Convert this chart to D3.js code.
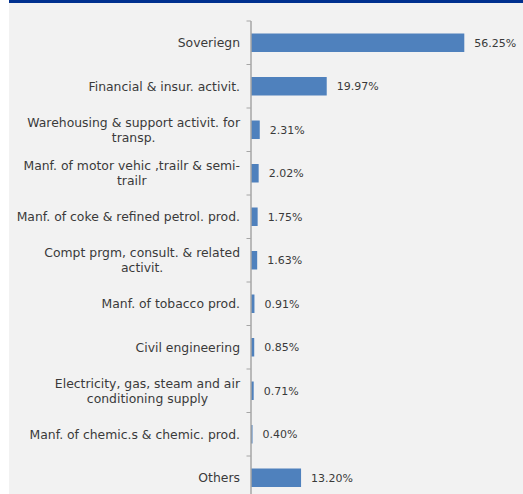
<!DOCTYPE html>
<html>
<head>
<meta charset="utf-8">
<script src="https://cdn.jsdelivr.net/npm/d3@7"></script>
<style>
  html, body { margin: 0; padding: 0; background: #ffffff; }
  svg { display: block; }
  text { font-family: "DejaVu Sans", sans-serif; fill: #3a3a3a; }
</style>
</head>
<body>
<svg id="chart" width="523" height="494"></svg>
<script>
// Sector breakdown (share of total, %)
const categories = [
  ["Soveriegn"],
  ["Financial & insur. activit."],
  ["Warehousing & support activit. for", "transp."],
  ["Manf. of motor vehic ,trailr & semi-", "trailr"],
  ["Manf. of coke & refined petrol. prod."],
  ["Compt prgm, consult. & related", "activit."],
  ["Manf. of tobacco prod."],
  ["Civil engineering"],
  ["Electricity, gas, steam and air", "conditioning supply"],
  ["Manf. of chemic.s & chemic. prod."],
  ["Others"]
];
const values = [56.25, 19.97, 2.31, 2.02, 1.75, 1.63, 0.91, 0.85, 0.71, 0.40, 13.20];
const valueLabels = ["56.25%", "19.97%", "2.31%", "2.02%", "1.75%", "1.63%", "0.91%", "0.85%", "0.71%", "0.40%", "13.20%"];

const svg = d3.select("#chart");
const W = 523, H = 494;

// panel background and header strip
svg.append("rect").attr("x", 9).attr("y", 0).attr("width", W - 9).attr("height", H).attr("fill", "#f2f2f2");
svg.append("rect").attr("x", 9).attr("y", 0).attr("width", W - 9).attr("height", 3).attr("fill", "#00308f");

const axisX = 251;
const keys = categories.map((d, i) => i);

const y = d3.scaleBand()
  .domain(keys)
  .range([21, 21 + 43.5 * keys.length])
  .paddingInner(0.575)
  .paddingOuter(0.2875);

const x = d3.scaleLinear().domain([0, 56.25]).range([axisX, 464.3]);

// bars
svg.append("g").selectAll("rect")
  .data(values)
  .join("rect")
  .attr("x", x(0))
  .attr("y", (d, i) => y(i))
  .attr("width", d => x(d) - x(0))
  .attr("height", y.bandwidth())
  .attr("fill", "#4f81bd");

// value labels
svg.append("g").selectAll("text")
  .data(values)
  .join("text")
  .attr("x", d => x(d) + 10)
  .attr("y", (d, i) => y(i) + y.bandwidth() / 2)
  .attr("dy", "0.35em")
  .attr("font-size", 11)
  .text((d, i) => valueLabels[i]);

// category axis: line plus ticks at band boundaries
const step = y.step();
const axis = svg.append("g");
axis.append("line")
  .attr("x1", axisX).attr("x2", axisX)
  .attr("y1", 21).attr("y2", H)
  .attr("stroke", "#a6a6a6").attr("stroke-width", 1.5);
axis.selectAll("line.tick")
  .data(d3.range(keys.length + 1))
  .join("line")
  .attr("class", "tick")
  .attr("x1", axisX - 4.5).attr("x2", axisX)
  .attr("y1", k => 21 + k * step).attr("y2", k => 21 + k * step)
  .attr("stroke", "#a6a6a6").attr("stroke-width", 1);

// category labels: right-aligned block, lines centered within the block
const labelRight = 240;
const lineH = 15;
const lg = svg.append("g");
categories.forEach((lines, i) => {
  const cy = y(i) + y.bandwidth() / 2;
  const t = lg.append("text").attr("font-size", 12.4).attr("text-anchor", "middle");
  const spans = lines.map((s, j) => t.append("tspan")
    .attr("y", cy + (j - (lines.length - 1) / 2) * lineH)
    .attr("dy", "0.35em")
    .text(s));
  const widest = d3.max(spans, s => s.node().getComputedTextLength());
  spans.forEach(s => s.attr("x", labelRight - widest / 2));
});
</script>
</body>
</html>
